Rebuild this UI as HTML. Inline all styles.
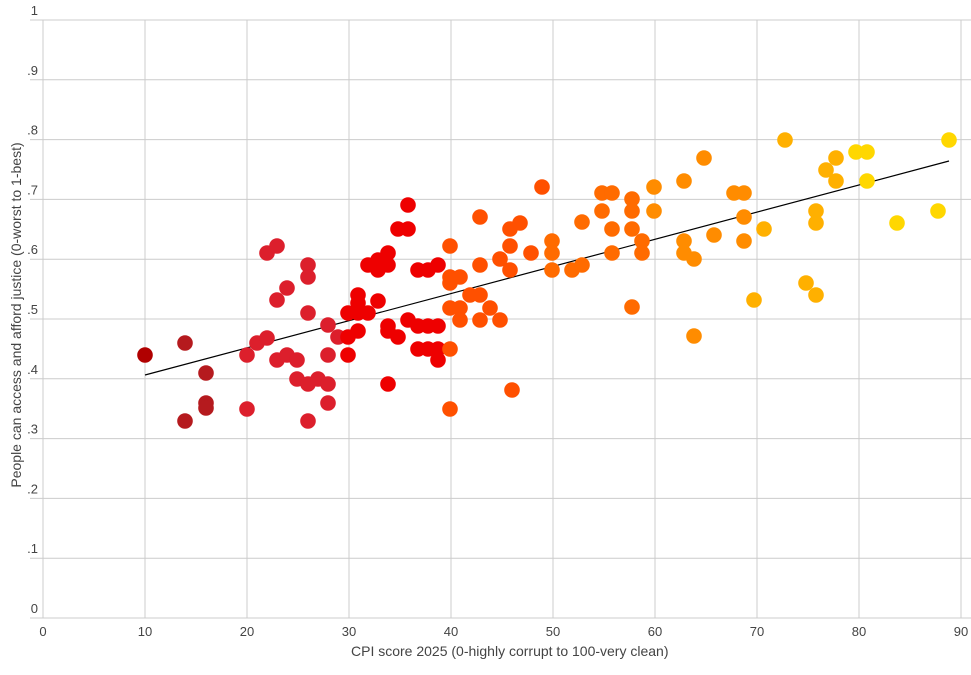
<!DOCTYPE html>
<html><head><meta charset="utf-8"><style>
body{margin:0;background:#fff;}
svg text{font-family:"Liberation Sans",sans-serif;fill:#444;}
</style></head><body>
<svg id="s" width="971" height="670" xmlns="http://www.w3.org/2000/svg">
<g id="grid" stroke="#cccccc" stroke-width="1"></g>
<line x1="145" y1="375" x2="949" y2="161" stroke="#000" stroke-width="1.2"/>
<g id="dots"></g>
<g id="lab" font-size="13"></g>
<text x="351" y="656" font-size="14" fill="#444">CPI score 2025 (0-highly corrupt to 100-very clean)</text>
<text transform="translate(21,315) rotate(-90)" text-anchor="middle" font-size="14">People can access and afford justice (0-worst to 1-best)</text>
</svg>
<script>
var NS="http://www.w3.org/2000/svg";
function el(p,t,a,tx){var e=document.createElementNS(NS,t);for(var k in a)e.setAttribute(k,a[k]);if(tx!=null)e.textContent=tx;document.getElementById(p).appendChild(e);}
var yl=["0",".1",".2",".3",".4",".5",".6",".7",".8",".9","1"];
for(var i=0;i<=10;i++){var y=618-59.8*i;el("grid","line",{x1:30,x2:971,y1:y.toFixed(1),y2:y.toFixed(1)});el("lab","text",{x:38,y:(y-5).toFixed(1),"text-anchor":"end"},yl[i]);}
for(var i=0;i<=9;i++){var x=43+102*i;el("grid","line",{x1:x,x2:x,y1:20,y2:618});el("lab","text",{x:x,y:636,"text-anchor":"middle"},String(i*10));}
var P=[[145,355],[185,343],[185,421],[206,373],[206,403],[206,408],[247,409],[247,355],[257,343],[267,253],[267,338],[277,246],[277,300],[277,360],[287,288],[287,355],[297,360],[297,379],[308,265],[308,277],[308,313],[308,384],[308,421],[318,379],[328,325],[328,355],[328,384],[328,403],[338,337],[348,313],[348,337],[348,355],[358,295],[358,303],[358,313],[358,331],[368,265],[368,313],[378,260],[378,270],[378,301],[388,253],[388,265],[388,326],[388,331],[388,384],[398,229],[398,337],[408,205],[408,229],[408,320],[418,270],[418,326],[418,349],[428,270],[428,326],[428,349],[438,326],[438,349],[438,360],[438,265],[450,246],[450,277],[450,283],[450,308],[450,349],[450,409],[460,277],[460,308],[460,320],[470,295],[480,217],[480,265],[480,295],[480,320],[490,308],[500,259],[500,320],[510,229],[510,246],[510,270],[512,390],[520,223],[531,253],[542,187],[552,241],[552,253],[552,270],[572,270],[582,265],[582,222],[602,193],[602,211],[612,193],[612,229],[612,253],[632,199],[632,211],[632,229],[632,307],[642,241],[642,253],[654,187],[654,211],[684,181],[684,241],[684,253],[694,259],[694,336],[704,158],[714,235],[734,193],[744,193],[744,217],[744,241],[764,229],[754,300],[785,140],[806,283],[816,295],[816,211],[816,223],[826,170],[836,158],[836,181],[856,152],[867,152],[867,181],[897,223],[938,211],[949,140]];
function col(px){var v=Math.round((px-43)/10.2);
if(v<12)return "#b00000";if(v<20)return "#b51a1e";if(v<30)return "#dc1f2c";if(v<40)return "#ee0000";if(v<50)return "#ff5000";if(v<60)return "#ff6b00";if(v<70)return "#ff8c00";if(v<80)return "#ffb000";return "#ffd700";}
P.forEach(function(p){el("dots","circle",{cx:p[0],cy:p[1],r:7.8,fill:col(p[0])});});
</script>
</body></html>
